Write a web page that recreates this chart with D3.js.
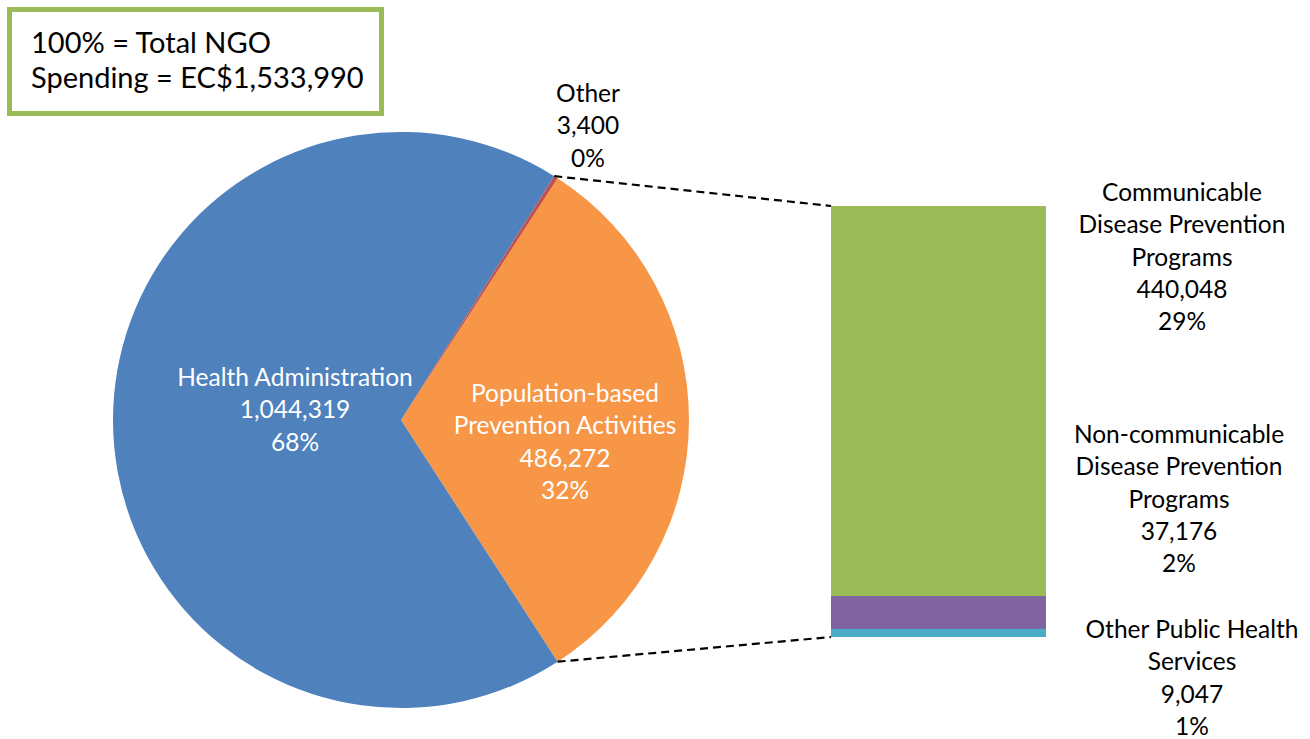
<!DOCTYPE html>
<html>
<head>
<meta charset="utf-8">
<script src="https://cdn.jsdelivr.net/npm/d3@7"></script>
<style>
  html, body { margin: 0; padding: 0; background: #fff; }
  svg { display: block; }
  text { font-family: Lato, "Open Sans", sans-serif; }
</style>
</head>
<body>
<svg id="chart" width="1310" height="739"></svg>
<script>
// Main pie: spending by category (EC$)
const pieCategories = ["Population-based Prevention Activities", "Health Administration", "Other"];
const pieLabelLines = [["Population-based", "Prevention Activities"], ["Health Administration"], ["Other"]];
const pieValues = [486272, 1044319, 3400];
const pieColors = ["#F79646", "#4F81BD", "#C0504D"];

// Breakdown bar of the population-based slice
const barCategories = ["Communicable Disease Prevention Programs", "Non-communicable Disease Prevention Programs", "Other Public Health Services"];
const barLabelLines = [["Communicable", "Disease Prevention", "Programs"], ["Non-communicable", "Disease Prevention", "Programs"], ["Other Public Health", "Services"]];
const barValues = [440048, 37176, 9047];
const barColors = ["#9BBB59", "#8064A2", "#4BACC6"];

const totalLines = ["100% = Total NGO", "Spending = EC$1,533,990"];

const svg = d3.select("#chart");
const fmt = d3.format(",");
const total = d3.sum(pieValues);
const pct = v => Math.round(v / total * 100) + "%";

const cx = 401, cy = 420, r = 288;
const lineH = 32.3;
const fs = 24.5;

// pie layout: the broken-out slice is centred on the 3 o'clock position
const firstAngle = pieValues[0] / total * 2 * Math.PI;
const pie = d3.pie().sort(null).value(d => d)
  .startAngle(Math.PI / 2 - firstAngle / 2)
  .endAngle(Math.PI / 2 - firstAngle / 2 + 2 * Math.PI);
const arcs = pie(pieValues);
const arc = d3.arc().innerRadius(0).outerRadius(r);

const gPie = svg.append("g").attr("transform", `translate(${cx},${cy})`);
gPie.selectAll("path").data(arcs).join("path")
  .attr("d", arc)
  .attr("fill", (d, i) => pieColors[i]);

// stacked bar
const barX = 831, barW = 215;
const y = d3.scaleLinear().domain([0, d3.sum(barValues)]).range([206, 637]);
const cum = d3.cumsum(barValues);
const barData = barValues.map((v, i) => ({ v, y0: i ? cum[i - 1] : 0, y1: cum[i] }));
svg.append("g").selectAll("rect").data(barData).join("rect")
  .attr("x", barX).attr("width", barW)
  .attr("y", d => y(d.y0))
  .attr("height", d => y(d.y1) - y(d.y0))
  .attr("fill", (d, i) => barColors[i]);

// connector lines from the slice edges to the bar
const pt = a => [cx + r * Math.sin(a), cy - r * Math.cos(a)];
const topPt = pt(arcs[2].startAngle);
const botPt = pt(arcs[0].endAngle);
const conn = [[topPt, [barX, y(0)]], [botPt, [barX, y(d3.sum(barValues))]]];
svg.append("g").selectAll("line").data(conn).join("line")
  .attr("x1", d => d[0][0]).attr("y1", d => d[0][1])
  .attr("x2", d => d[1][0]).attr("y2", d => d[1][1])
  .attr("stroke", "#000").attr("stroke-width", 2.2)
  .attr("stroke-dasharray", "8,5");

// multi-line centred label helper
function label(x, yFirst, lines, color) {
  const t = svg.append("text")
    .attr("text-anchor", "middle")
    .attr("font-size", fs)
    .attr("fill", color);
  lines.forEach((s, i) => {
    t.append("tspan").attr("x", x).attr("y", yFirst + i * lineH).text(s);
  });
}

// pie labels
const pieLabelPos = [[565, 402], [295, 386], [588, 102]];
const pieLabelColor = ["#fff", "#fff", "#000"];
pieValues.forEach((v, i) => {
  label(pieLabelPos[i][0], pieLabelPos[i][1], [...pieLabelLines[i], fmt(v), pct(v)], pieLabelColor[i]);
});

// bar labels
const barLabelPos = [[1182, 201], [1179, 443], [1192, 638]];
barValues.forEach((v, i) => {
  label(barLabelPos[i][0], barLabelPos[i][1], [...barLabelLines[i], fmt(v), pct(v)], "#000");
});

// total box
svg.append("rect")
  .attr("x", 9.5).attr("y", 9.5).attr("width", 372).attr("height", 104)
  .attr("fill", "#fff").attr("stroke", "#9BBB59").attr("stroke-width", 5);
const tb = svg.append("text").attr("font-size", 29).attr("fill", "#000");
totalLines.forEach((s, i) => {
  tb.append("tspan").attr("x", 31).attr("y", 53 + i * 35).text(s);
});
</script>
</body>
</html>
